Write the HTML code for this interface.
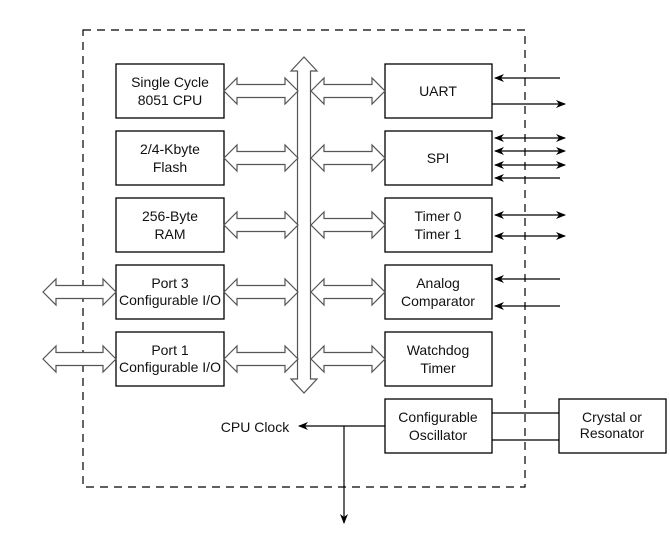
<!DOCTYPE html>
<html><head><meta charset="utf-8"><style>
body{margin:0;background:#fff;}
svg{display:block;}
text{font-family:"Liberation Sans",Arial,sans-serif;font-size:14px;fill:#111;text-anchor:middle;}
</style></head><body>
<svg width="670" height="552" viewBox="0 0 670 552">
<defs>
<marker id="a" markerWidth="10" markerHeight="8" refX="9" refY="4" orient="auto" markerUnits="userSpaceOnUse"><path d="M0,0 L10,4 L0,8 L3,4 Z" fill="#000"/></marker>
<marker id="b" markerWidth="10" markerHeight="8" refX="1" refY="4" orient="auto" markerUnits="userSpaceOnUse"><path d="M10,0 L0,4 L10,8 L7,4 Z" fill="#000"/></marker>
</defs>
<rect x="83" y="30" width="442" height="457" fill="none" stroke="#000" stroke-width="1.2" stroke-dasharray="8,6"/>
<g fill="#fff" stroke="#000" stroke-width="1.3">
<rect x="116" y="64" width="108" height="54"/><rect x="116" y="131" width="108" height="54"/>
<rect x="116" y="198" width="108" height="54"/><rect x="116" y="265" width="108" height="54"/>
<rect x="116" y="332" width="108" height="54"/>
<rect x="385" y="64" width="107" height="54"/><rect x="385" y="131" width="107" height="54"/>
<rect x="385" y="198" width="107" height="54"/><rect x="385" y="265" width="107" height="54"/>
<rect x="385" y="332" width="107" height="54"/><rect x="385" y="399" width="107" height="54"/>
<rect x="559" y="399" width="107" height="54"/>
</g>
<g fill="#fff" stroke="#555" stroke-width="1.2">
<polygon points="304,57 317,71 310.5,71 310.5,379 317,379 304,393 291,379 297.5,379 297.5,71 291,71"/>
<polygon points="224,91 237,78 237,84.5 285,84.5 285,78 298,91 285,104 285,97.5 237,97.5 237,104"/>
<polygon points="224,158 237,145 237,151.5 285,151.5 285,145 298,158 285,171 285,164.5 237,164.5 237,171"/>
<polygon points="224,225 237,212 237,218.5 285,218.5 285,212 298,225 285,238 285,231.5 237,231.5 237,238"/>
<polygon points="224,292 237,279 237,285.5 285,285.5 285,279 298,292 285,305 285,298.5 237,298.5 237,305"/>
<polygon points="224,359 237,346 237,352.5 285,352.5 285,346 298,359 285,372 285,365.5 237,365.5 237,372"/>
<polygon points="311,91 324,78 324,84.5 372,84.5 372,78 385,91 372,104 372,97.5 324,97.5 324,104"/>
<polygon points="311,158 324,145 324,151.5 372,151.5 372,145 385,158 372,171 372,164.5 324,164.5 324,171"/>
<polygon points="311,225 324,212 324,218.5 372,218.5 372,212 385,225 372,238 372,231.5 324,231.5 324,238"/>
<polygon points="311,292 324,279 324,285.5 372,285.5 372,279 385,292 372,305 372,298.5 324,298.5 324,305"/>
<polygon points="311,359 324,346 324,352.5 372,352.5 372,346 385,359 372,372 372,365.5 324,365.5 324,372"/>
<polygon points="43,292 56,279 56,285.5 103,285.5 103,279 116,292 103,305 103,298.5 56,298.5 56,305"/>
<polygon points="43,359 56,346 56,352.5 103,352.5 103,346 116,359 103,372 103,365.5 56,365.5 56,372"/>
</g>
<g stroke="#000" stroke-width="1.2" fill="none">
<line x1="560" y1="78" x2="495" y2="78" marker-end="url(#a)"/>
<line x1="492" y1="104" x2="565" y2="104" marker-end="url(#a)"/>
<line x1="495" y1="138" x2="565" y2="138" marker-start="url(#b)" marker-end="url(#a)"/>
<line x1="495" y1="151" x2="565" y2="151" marker-start="url(#b)" marker-end="url(#a)"/>
<line x1="495" y1="165" x2="565" y2="165" marker-start="url(#b)" marker-end="url(#a)"/>
<line x1="560" y1="178" x2="495" y2="178" marker-end="url(#a)"/>
<line x1="495" y1="215" x2="565" y2="215" marker-start="url(#b)" marker-end="url(#a)"/>
<line x1="495" y1="236" x2="565" y2="236" marker-start="url(#b)" marker-end="url(#a)"/>
<line x1="560" y1="279" x2="495" y2="279" marker-end="url(#a)"/>
<line x1="560" y1="306" x2="495" y2="306" marker-end="url(#a)"/>
<line x1="492" y1="413" x2="559" y2="413"/>
<line x1="492" y1="440" x2="559" y2="440"/>
<line x1="385" y1="426" x2="299" y2="426" marker-end="url(#a)"/>
<line x1="344" y1="426" x2="344" y2="523" marker-end="url(#a)"/>
</g>
<text x="170" y="87">Single Cycle</text><text x="170" y="105">8051 CPU</text>
<text x="170" y="154">2/4-Kbyte</text><text x="170" y="172">Flash</text>
<text x="170" y="221">256-Byte</text><text x="170" y="239">RAM</text>
<g style="font-size:12.5px"><text x="170" y="288">Port 3</text><text x="170" y="305">Configurable I/O</text>
<text x="170" y="355">Port 1</text><text x="170" y="372">Configurable I/O</text></g>
<text x="438" y="96">UART</text>
<text x="438" y="163">SPI</text>
<text x="438" y="221">Timer 0</text><text x="438" y="239">Timer 1</text>
<text x="438" y="288">Analog</text><text x="438" y="306">Comparator</text>
<text x="438" y="355">Watchdog</text><text x="438" y="373">Timer</text>
<text x="438" y="422">Configurable</text><text x="438" y="440">Oscillator</text>
<g style="font-size:12.5px"><text x="612" y="422">Crystal or</text><text x="612" y="438">Resonator</text></g>
<text x="255" y="432">CPU Clock</text>
</svg>
</body></html>
